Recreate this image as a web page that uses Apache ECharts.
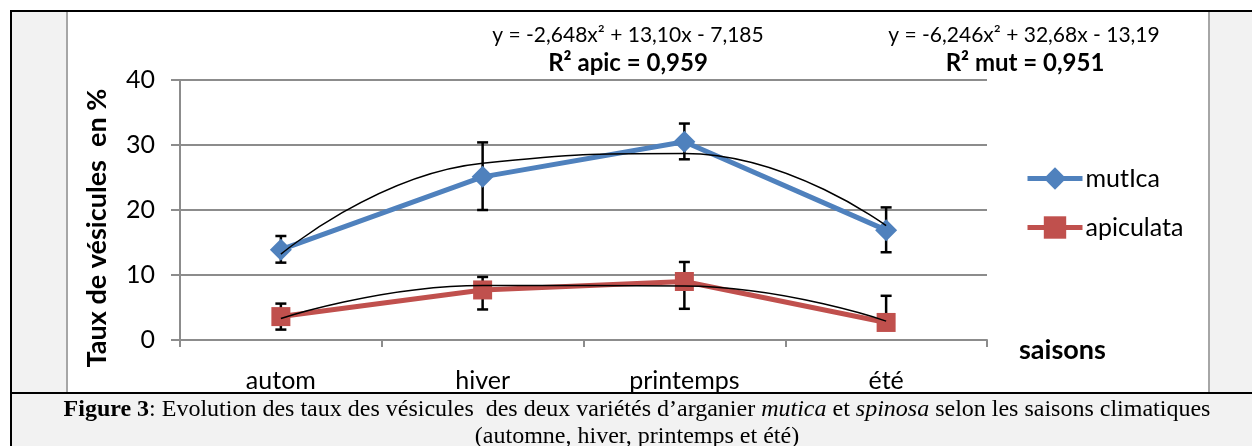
<!DOCTYPE html>
<html>
<head>
<meta charset="utf-8">
<script src="https://cdn.jsdelivr.net/npm/echarts@6/dist/echarts.min.js"></script>
<style>
  body { margin: 0; background: #fff; }
  #chart { width: 1252px; height: 446px; }
</style>
</head>
<body>
<div id="chart"></div>
<script>
const saisons = ['autom', 'hiver', 'printemps', 'été'];
const mutica = [13.9, 25.1, 30.5, 16.9];
const apiculata = [3.6, 7.7, 9.0, 2.7];
// bornes des barres d'erreur
const muticaBas = [11.9, 20.0, 27.8, 13.5];
const muticaHaut = [16.0, 30.4, 33.3, 20.4];
const apicBas = [1.6, 4.7, 4.8, 1.6];
const apicHaut = [5.6, 9.7, 12.0, 6.8];
// courbes de tendance
const muticaTendance = [13.2, 27.2, 28.7, 17.6];
const apicTendance = [3.3, 8.4, 8.3, 2.9];

const police = 'Lato, "Open Sans", sans-serif';
const serif = '"Liberation Serif", serif';
const gris = '#8c8c8c';

const chart = echarts.init(document.getElementById('chart'));

const barres = (bas, haut) => bas.map((b, i) => [i, b, haut[i]]);

function dessinBarre(params, api) {
  const a = api.coord([api.value(0), api.value(1)]);
  const b = api.coord([api.value(0), api.value(2)]);
  const w = 5.5;
  const st = { stroke: '#000', lineWidth: 2.5 };
  return {
    type: 'group',
    children: [
      { type: 'line', shape: { x1: a[0], y1: a[1], x2: b[0], y2: b[1] }, style: st },
      { type: 'line', shape: { x1: a[0] - w, y1: a[1], x2: a[0] + w, y2: a[1] }, style: st },
      { type: 'line', shape: { x1: b[0] - w, y1: b[1], x2: b[0] + w, y2: b[1] }, style: st }
    ]
  };
}

chart.setOption({
  animation: false,
  grid: { left: 180, right: 265, top: 80, bottom: 106 },
  xAxis: {
    type: 'category',
    data: saisons,
    boundaryGap: true,
    axisLine: { lineStyle: { color: gris, width: 2 } },
    axisTick: { show: true, interval: 0, length: 7, lineStyle: { color: gris, width: 2 } },
    axisLabel: { color: '#000', fontSize: 25, fontFamily: police, margin: 28 },
    name: 'saisons',
    nameLocation: 'end',
    nameGap: 32,
    nameTextStyle: {
      color: '#000', fontSize: 27, fontWeight: 'bold', fontFamily: police,
      align: 'left', verticalAlign: 'top', lineHeight: 20
    }
  },
  yAxis: {
    type: 'value',
    min: 0, max: 40, interval: 10,
    axisLine: { show: true, lineStyle: { color: gris, width: 2 } },
    axisTick: { show: true, length: 9, lineStyle: { color: gris, width: 2 } },
    splitLine: { lineStyle: { color: gris, width: 2 } },
    axisLabel: { color: '#000', fontSize: 25, fontFamily: police, margin: 25 }
  },
  legend: {
    data: ['mutIca', 'apiculata'],
    orient: 'vertical',
    left: 1025, top: 166,
    itemWidth: 55, itemHeight: 28, itemGap: 24,
    padding: 0,
    lineStyle: { width: 5 },
    textStyle: { color: '#000', fontSize: 25, fontFamily: police, padding: [0, 0, 0, -2] }
  },
  series: [
    {
      type: 'custom', name: 'err mutica', z: 1,
      renderItem: dessinBarre, encode: { x: 0, y: [1, 2] },
      data: barres(muticaBas, muticaHaut)
    },
    {
      type: 'custom', name: 'err apic', z: 1,
      renderItem: dessinBarre, encode: { x: 0, y: [1, 2] },
      data: barres(apicBas, apicHaut)
    },
    {
      name: 'mutIca', type: 'line', data: mutica, z: 2,
      symbol: 'diamond', symbolSize: 22,
      itemStyle: { color: '#4F81BD' },
      lineStyle: { color: '#4F81BD', width: 5 }
    },
    {
      name: 'apiculata', type: 'line', data: apiculata, z: 2,
      symbol: 'rect', symbolSize: 19,
      itemStyle: { color: '#C0504D' },
      lineStyle: { color: '#C0504D', width: 5 }
    },
    {
      name: 'tendance mutica', type: 'line', data: muticaTendance, z: 3,
      smooth: 0.5, symbol: 'none', silent: true,
      lineStyle: { color: '#000', width: 1.5 }
    },
    {
      name: 'tendance apic', type: 'line', data: apicTendance, z: 3,
      smooth: 0.5, symbol: 'none', silent: true,
      lineStyle: { color: '#000', width: 1.5 }
    }
  ],
  graphic: [
    // cadre
    { type: 'rect', z: -20, shape: { x: 11, y: 11, width: 1260, height: 450 },
      style: { fill: '#f2f2f2', stroke: '#000', lineWidth: 2 } },
    { type: 'rect', z: -19, shape: { x: 67, y: 12, width: 1142, height: 380 },
      style: { fill: '#fff' } },
    { type: 'line', z: -18, shape: { x1: 67, y1: 12, x2: 67, y2: 392 },
      style: { stroke: '#a6a6a6', lineWidth: 2 } },
    { type: 'line', z: -18, shape: { x1: 1209, y1: 12, x2: 1209, y2: 392 },
      style: { stroke: '#a6a6a6', lineWidth: 2 } },
    { type: 'line', z: -18, shape: { x1: 11, y1: 393, x2: 1252, y2: 393 },
      style: { stroke: '#000', lineWidth: 2 } },
    // titre de l'axe vertical
    { type: 'text', x: 97, y: 228, rotation: Math.PI / 2,
      style: { text: 'Taux de vésicules  en %', align: 'center', verticalAlign: 'middle',
               font: 'bold 27px ' + police, fill: '#000' } },
    // équations
    { type: 'text', x: 628, y: 35,
      style: { text: 'y = -2,648x² + 13,10x - 7,185', align: 'center', verticalAlign: 'middle',
               font: '21px ' + police, fill: '#000' } },
    { type: 'text', x: 628, y: 63,
      style: { text: 'R² apic = 0,959', align: 'center', verticalAlign: 'middle',
               font: 'bold 24px ' + police, fill: '#000' } },
    { type: 'text', x: 1024, y: 35,
      style: { text: 'y = -6,246x² + 32,68x - 13,19', align: 'center', verticalAlign: 'middle',
               font: '21px ' + police, fill: '#000' } },
    { type: 'text', x: 1025, y: 63,
      style: { text: 'R² mut = 0,951', align: 'center', verticalAlign: 'middle',
               font: 'bold 24px ' + police, fill: '#000' } },
    // légende de la figure
    { type: 'text', x: 637, y: 410,
      style: {
        text: '{b|Figure 3}{n|: Evolution des taux des vésicules  des deux variétés d\u2019arganier }{i|mutica}{n| et }{i|spinosa}{n| selon les saisons climatiques}',
        align: 'center', verticalAlign: 'middle',
        rich: {
          b: { fontFamily: serif, fontSize: 24, fontWeight: 'bold', fill: '#000' },
          n: { fontFamily: serif, fontSize: 24, fill: '#000' },
          i: { fontFamily: serif, fontSize: 24, fontStyle: 'italic', fill: '#000' }
        }
      } },
    { type: 'text', x: 637, y: 437,
      style: { text: '(automne, hiver, printemps et été)', align: 'center', verticalAlign: 'middle',
               font: '24px ' + serif, fill: '#000' } }
  ]
});
</script>
</body>
</html>
